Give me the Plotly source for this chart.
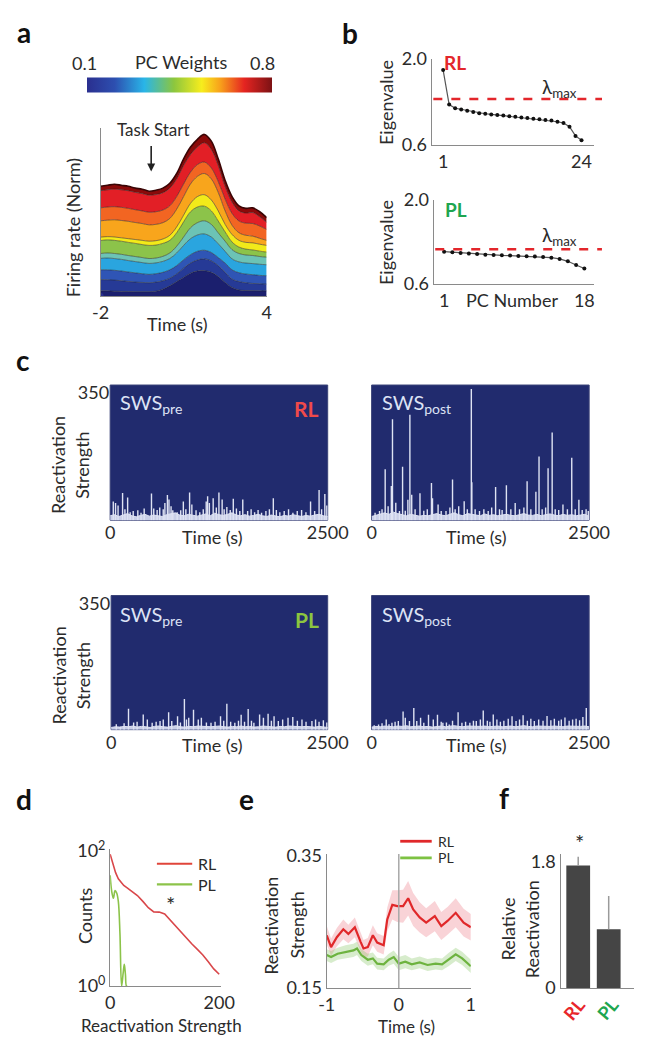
import plotly.graph_objects as go

W, H = 655, 1050
TXT = '#2b2b2b'
AX = '#8a8a8a'
FONT = 'Lato'
FS = 18

# ---------------- data ----------------
# panel a : stacked firing-rate bands (layer tops, bottom -> top)
t_a = [-2.0, -1.75, -1.5, -1.25, -1.0, -0.75, -0.5, -0.25, 0.0, 0.25, 0.5, 0.75, 1.0,
       1.25, 1.5, 1.75, 2.0, 2.25, 2.5, 2.75, 3.0, 3.25, 3.5, 3.75, 4.0]
L1 = [0.030,0.030,0.028,0.027,0.026,0.025,0.025,0.025,0.028,0.040,0.060,0.085,0.110,0.135,0.148,0.150,0.140,0.115,0.080,0.050,0.035,0.032,0.031,0.030,0.030]
L2 = [0.097,0.096,0.094,0.090,0.086,0.082,0.080,0.078,0.082,0.090,0.105,0.130,0.165,0.195,0.213,0.220,0.208,0.180,0.140,0.100,0.085,0.078,0.074,0.072,0.070]
L3 = [0.155,0.155,0.152,0.148,0.142,0.137,0.132,0.128,0.132,0.140,0.155,0.180,0.215,0.245,0.265,0.271,0.258,0.228,0.195,0.155,0.138,0.130,0.126,0.122,0.120]
L4 = [0.223,0.225,0.222,0.217,0.210,0.204,0.198,0.193,0.196,0.205,0.222,0.255,0.300,0.340,0.362,0.368,0.350,0.310,0.265,0.220,0.202,0.195,0.192,0.188,0.185]
L5 = [0.252,0.255,0.252,0.247,0.240,0.234,0.228,0.222,0.225,0.235,0.255,0.295,0.350,0.405,0.435,0.446,0.425,0.375,0.325,0.275,0.252,0.243,0.240,0.234,0.230]
L6 = [0.329,0.333,0.330,0.325,0.318,0.312,0.305,0.300,0.302,0.312,0.330,0.375,0.440,0.500,0.528,0.533,0.505,0.445,0.380,0.320,0.290,0.278,0.273,0.266,0.260]
L7 = [0.349,0.352,0.350,0.345,0.340,0.335,0.330,0.325,0.328,0.338,0.360,0.410,0.480,0.550,0.590,0.601,0.570,0.505,0.425,0.365,0.330,0.318,0.315,0.307,0.300]
L8 = [0.446,0.450,0.452,0.448,0.443,0.436,0.430,0.422,0.425,0.435,0.460,0.515,0.590,0.665,0.710,0.727,0.695,0.615,0.505,0.420,0.375,0.360,0.355,0.342,0.330]
L9 = [0.523,0.528,0.530,0.526,0.520,0.512,0.505,0.497,0.500,0.510,0.535,0.590,0.665,0.735,0.780,0.795,0.760,0.680,0.575,0.490,0.445,0.432,0.430,0.415,0.395]
L10 = [0.625,0.630,0.635,0.630,0.625,0.615,0.608,0.598,0.602,0.613,0.640,0.695,0.775,0.840,0.885,0.910,0.870,0.775,0.650,0.557,0.505,0.492,0.495,0.470,0.437]
L11 = [0.651,0.657,0.663,0.657,0.651,0.640,0.634,0.622,0.628,0.640,0.669,0.727,0.814,0.884,0.930,0.959,0.919,0.814,0.686,0.590,0.535,0.520,0.523,0.500,0.465]
layer_colors = ['#1b1f6e', '#263a96', '#2f55b5', '#2aa5df', '#6cc3b5', '#8cc34a',
                '#f2ea1a', '#f8a51c', '#f26522', '#e21f26', '#8b0a0a']
pc_weight_range = [0.1, 0.8]
pc_colorscale = [[0, '#2a2f8f'], [0.15, '#2d4fb0'], [0.31, '#29b5e8'], [0.47, '#8cc63e'],
                 [0.62, '#f7ed1d'], [0.72, '#f8a11b'], [0.85, '#e52421'], [1, '#7c1214']]

# panel b : eigenvalue spectra
pc_rl = list(range(1, 25))
eig_rl = [1.82, 1.26, 1.20, 1.18, 1.16, 1.14, 1.12, 1.11, 1.10, 1.09, 1.08, 1.07,
          1.06, 1.05, 1.04, 1.03, 1.02, 1.01, 1.00, 0.98, 0.96, 0.90, 0.75, 0.68]
lam_rl = 1.35
pc_pl = list(range(1, 19))
eig_pl = [1.14, 1.13, 1.12, 1.11, 1.10, 1.09, 1.085, 1.08, 1.075, 1.07, 1.065, 1.06,
          1.05, 1.04, 1.02, 0.98, 0.92, 0.86]
lam_pl = 1.18

# panel c : reactivation strength time courses (spike times s, heights)
c1_t = [36,62,91,143,170,201,230,265,318,355,391,475,501,540,570,610,629,658,676,700,720,770,811,841,870,913,939,987,1030,1070,1104,1120,1140,1184,1220,1250,1287,1310,1341,1380,1415,1451,1490,1524,1580,1620,1660,1700,1740,1790,1830,1875,1910,1950,2000,2050,2100,2150,2200,2250,2303,2350,2401,2430,2467,2490]
c1_h = [51,47,40,75,30,62,22,25,27,20,32,73,32,28,35,30,47,69,57,38,27,22,27,51,30,76,43,27,22,30,51,66,47,60,35,76,57,30,36,28,59,32,25,57,25,30,22,28,20,25,30,60,28,22,25,30,20,25,28,22,51,25,83,30,72,40]
c2_t = [40,91,120,156,190,227,240,278,320,356,387,417,440,461,500,556,600,640,688,700,764,800,855,900,930,960,1001,1064,1100,1146,1152,1190,1240,1290,1340,1380,1425,1470,1500,1549,1600,1650,1700,1750,1787,1830,1888,1924,1960,2000,2028,2075,2110,2150,2199,2250,2300,2340,2382,2420,2465,2490]
c2_h = [20,25,30,140,38,94,278,48,25,147,26,56,290,70,30,74,26,30,102,60,43,25,25,35,112,30,38,52,30,361,104,30,25,30,25,35,91,30,28,96,30,47,30,35,107,30,78,175,30,35,143,241,30,28,43,30,172,30,56,28,30,25]
c3_t = [60,107,150,201,260,300,371,418,474,520,565,602,664,700,767,800,846,870,896,951,1006,1042,1100,1153,1200,1263,1300,1336,1380,1428,1470,1501,1540,1582,1620,1648,1714,1758,1812,1850,1881,1930,1980,2042,2097,2150,2203,2250,2318,2360,2400,2450,2490]
c3_h = [15,8,18,58,20,22,42,28,19,22,24,28,48,24,37,20,85,28,33,55,28,33,20,19,22,37,25,72,22,19,25,41,22,57,25,19,42,33,44,25,37,24,28,33,35,25,28,22,24,28,22,26,20]
c4_t = [30,80,120,168,200,234,270,307,362,387,435,485,519,563,600,654,709,757,800,819,860,892,930,994,1038,1080,1129,1170,1203,1250,1283,1330,1360,1398,1440,1480,1520,1570,1614,1660,1700,1741,1790,1830,1870,1920,1970,2016,2060,2100,2150,2180,2222,2270,2310,2350,2390,2428,2467]
c4_h = [12,14,18,28,15,19,22,24,50,33,24,60,24,33,19,41,28,41,22,19,20,14,25,48,19,22,19,25,24,28,53,25,22,42,28,22,25,30,37,24,28,40,25,30,24,28,25,38,26,30,25,28,34,25,28,30,26,35,60]
floor_t = list(range(0, 2501, 50))
c1_floor = [12,15,10,14,18,12,9,13,16,11,14,12,10,15,18,20,14,12,16,13,11,14,17,12,19,15,13,16,20,14,12,15,11,13,16,12,10,14,12,9,13,11,15,12,10,13,11,14,16,12,10]
c2_floor = [10,14,18,20,16,22,18,15,12,16,14,11,13,12,15,18,14,12,16,20,15,12,18,16,14,12,17,13,15,12,14,16,13,12,15,18,14,13,16,12,15,17,14,12,16,13,15,12,14,16,10]
c3_floor = [6,8,7,9,8,10,7,9,8,6,9,10,8,7,9,11,8,7,9,8,10,9,7,8,9,10,8,7,9,8,10,8,9,7,8,10,9,8,7,9,8,10,9,7,8,9,8,7,9,8,6]
c4_floor = [7,9,8,10,9,8,10,9,11,8,9,10,8,9,7,9,10,8,9,11,9,8,10,9,8,9,10,8,9,10,8,9,10,8,9,11,9,8,10,9,8,9,10,9,8,10,9,8,9,10,8]

# panel d : distribution of reactivation strength
d_x_rl = [0,5,10,15,20,25,30,40,50,60,70,80,90,100,110,120,130,140,150,160,170,180,190,200]
d_rl = [90,63,48,39,34,31,29,25,22,18,14.5,12.6,12.5,11.7,9.5,7.9,6.3,5.1,4.2,3.5,2.9,2.3,1.8,1.5]
d_x_pl = [0,3,6,9,12,15,18,21,24,26,28,30,32]
d_pl = [44,25,20,26,24,18,6,1,1.6,2.1,1.5,1,1]

# panel e : task-locked reactivation (mean, sem)
t_e_rl = [-1.0,-0.94,-0.86,-0.77,-0.70,-0.61,-0.53,-0.49,-0.43,-0.36,-0.30,-0.21,-0.16,-0.09,-0.02,0.06,0.13,0.20,0.29,0.38,0.50,0.59,0.68,0.79,0.90,1.0]
e_rl = [0.230,0.212,0.227,0.239,0.232,0.242,0.220,0.210,0.212,0.230,0.219,0.215,0.254,0.276,0.274,0.274,0.286,0.269,0.257,0.249,0.259,0.244,0.252,0.264,0.249,0.242]
e_rl_sem = [0.014,0.013,0.014,0.015,0.014,0.015,0.014,0.013,0.014,0.015,0.014,0.014,0.018,0.022,0.024,0.025,0.026,0.025,0.023,0.022,0.023,0.021,0.021,0.022,0.021,0.020]
t_e_pl = [-1.0,-0.94,-0.85,-0.74,-0.63,-0.58,-0.52,-0.43,-0.36,-0.30,-0.21,-0.14,-0.07,0.0,0.09,0.18,0.29,0.40,0.51,0.60,0.69,0.79,0.88,1.0]
e_pl = [0.200,0.197,0.202,0.205,0.207,0.210,0.200,0.193,0.195,0.187,0.186,0.193,0.197,0.187,0.190,0.186,0.189,0.185,0.187,0.186,0.193,0.201,0.195,0.183]
e_pl_sem = [0.009,0.009,0.009,0.010,0.010,0.010,0.009,0.009,0.009,0.009,0.009,0.009,0.010,0.010,0.010,0.009,0.009,0.009,0.009,0.009,0.010,0.010,0.010,0.010]

# panel f : relative reactivation
f_cats = ['RL', 'PL']
f_vals = [1.745, 0.837]
f_err = [0.125, 0.475]
f_label_colors = ['#e8262b', '#1ea650']

# ---------------- helpers ----------------
def X(p):
    return p / W

def Y(p):
    return 1 - p / H

def _axis(domain, rng, anchor, tickvals, ticktext, showline, kw):
    d = dict(domain=domain, range=rng, anchor=anchor, showline=showline,
             linecolor=AX, linewidth=1.3, showgrid=False, zeroline=False, ticks='',
             showticklabels=tickvals is not None,
             tickfont=dict(size=FS, color=TXT, family=FONT), fixedrange=True)
    if tickvals is not None:
        d['tickvals'] = tickvals
        d['ticktext'] = ticktext
    d.update(kw)
    return d

def xax(x0, x1, rng, anchor, tickvals=None, ticktext=None, showline=True, **kw):
    return _axis([X(x0), X(x1)], rng, anchor, tickvals, ticktext, showline, kw)

def yax(top, bottom, rng, anchor, tickvals=None, ticktext=None, showline=True, **kw):
    return _axis([Y(bottom), Y(top)], rng, anchor, tickvals, ticktext, showline, kw)

annotations = []
shapes = []

def ann(text, x, y, size=FS, color=TXT, angle=0, xanchor='center', yanchor='middle', bold=False):
    if bold:
        text = '<b>' + text + '</b>'
    annotations.append(dict(text=text, x=X(x), y=Y(y), xref='paper', yref='paper',
                            showarrow=False, textangle=angle, xanchor=xanchor,
                            yanchor=yanchor, font=dict(size=size, color=color, family=FONT)))

def hline_px(x0, x1, y, color, width):
    shapes.append(dict(type='line', xref='paper', yref='paper', x0=X(x0), x1=X(x1),
                       y0=Y(y), y1=Y(y), line=dict(color=color, width=width)))

fig = go.Figure()

# ---------------- panel a ----------------
tops = [L1, L2, L3, L4, L5, L6, L7, L8, L9, L10, L11]
for i, top in enumerate(tops):
    last = i == len(tops) - 1
    fig.add_trace(go.Scatter(
        x=t_a, y=top, mode='lines', line_shape='spline',
        fill='tozeroy' if i == 0 else 'tonexty', fillcolor=layer_colors[i],
        line=dict(color='#3a0505' if last else 'rgba(35,35,35,0.65)', width=1.6 if last else 0.8),
        xaxis='x', yaxis='y', hoverinfo='skip', showlegend=False))
fig.add_trace(go.Scatter(
    x=[t_a[0]], y=[0], mode='markers', xaxis='x', yaxis='y', showlegend=False, hoverinfo='skip',
    marker=dict(size=0, color=[pc_weight_range[0]], cmin=pc_weight_range[0], cmax=pc_weight_range[1],
                colorscale=pc_colorscale, showscale=True,
                colorbar=dict(orientation='h', x=X((86 + 271) / 2), xanchor='center',
                              y=Y(75), yanchor='middle', len=185, lenmode='pixels',
                              thickness=15, thicknessmode='pixels', outlinewidth=0,
                              showticklabels=False, ticks='', xpad=0, ypad=0))))

ann('<b>a</b>', 16, 20, size=28, color='#111')
ann(str(pc_weight_range[0]), 79, 52)
ann('PC Weights', 180, 51)
ann(str(pc_weight_range[1]), 266, 52)
ann('Task Start', 151, 120, size=17)
annotations.append(dict(text='', x=X(149), y=Y(163), xref='paper', yref='paper', showarrow=True,
                        ax=0, ay=-27, arrowhead=2, arrowsize=1, arrowwidth=1.6, arrowcolor='#222'))
ann('Firing rate (Norm)', 67, 220, angle=-90)
ann('Time (s)', 177, 319)

# ---------------- panel b ----------------
fig.add_trace(go.Scatter(x=pc_rl, y=eig_rl, mode='lines+markers', xaxis='x2', yaxis='y2',
                         line=dict(color='#555', width=1.2), marker=dict(color='#111', size=4),
                         showlegend=False, hoverinfo='skip'))
fig.add_trace(go.Scatter(x=pc_pl, y=eig_pl, mode='lines+markers', xaxis='x3', yaxis='y3',
                         line=dict(color='#555', width=1.2), marker=dict(color='#111', size=4),
                         showlegend=False, hoverinfo='skip'))
shapes.append(dict(type='line', xref='x2 domain', yref='y2', x0=0.01, x1=1.05, y0=lam_rl, y1=lam_rl,
                   line=dict(color='#e3262b', width=2.5, dash='dash')))
shapes.append(dict(type='line', xref='x3 domain', yref='y3', x0=0.01, x1=1.05, y0=lam_pl, y1=lam_pl,
                   line=dict(color='#e3262b', width=2.5, dash='dash')))
ann('<b>b</b>', 357, 21, size=28, color='#111')
ann('Eigenvalue', 395, 92, angle=-90)
ann('Eigenvalue', 395, 235, angle=-90)
ann('RL', 467, 52, size=19, color='#e3262b', bold=True)
ann('PL', 468, 202, size=19, color='#1ea650', bold=True)
ann('λ<sub>max</sub>', 577, 78, size=19)
ann('λ<sub>max</sub>', 577, 229, size=19)
ann('PC Number', 527, 294)

# ---------------- panel c ----------------
NAVY = '#212b6e'
SPK = '#dfe3f3'
c_sets = [(c1_t, c1_h, c1_floor, '4'), (c2_t, c2_h, c2_floor, '5'),
          (c3_t, c3_h, c3_floor, '6'), (c4_t, c4_h, c4_floor, '7')]
for ts, hs, fl, k in c_sets:
    shapes.append(dict(type='rect', xref='x%s domain' % k, yref='y%s domain' % k, x0=0, x1=1, y0=0, y1=1,
                       fillcolor=NAVY, line=dict(color='#3b4478', width=1), layer='below'))
    fig.add_trace(go.Scatter(x=floor_t, y=fl, mode='lines', fill='tozeroy', fillcolor='#c9cfe8',
                             line=dict(color=SPK, width=1), xaxis='x' + k, yaxis='y' + k,
                             showlegend=False, hoverinfo='skip'))
    xs, ys = [], []
    for t, h in zip(ts, hs):
        xs += [t, t, None]
        ys += [0, h, None]
    fig.add_trace(go.Scatter(x=xs, y=ys, mode='lines', line=dict(color=SPK, width=1.4),
                             xaxis='x' + k, yaxis='y' + k, showlegend=False, hoverinfo='skip'))

ann('<b>c</b>', 15, 355, size=28, color='#111')
for yc in (463, 678):
    ann('Reactivation', 52, yc, angle=-90)
    ann('Strength', 77, yc, angle=-90)
for ytop in (400, 616):
    ann('SWS<sub>pre</sub>', 114, ytop, size=20, color='#dde3f5', xanchor='left')
    ann('SWS<sub>post</sub>', 389, ytop, size=20, color='#dde3f5', xanchor='left')
ann('RL', 312, 405, size=21, color='#f04a4a', bold=True)
ann('PL', 312, 620, size=21, color='#8cc63f', bold=True)
for yt in (536, 749):
    ann('Time (s)', 213, yt)
    ann('Time (s)', 490, yt)

# ---------------- panel d ----------------
fig.add_trace(go.Scatter(x=d_x_rl, y=d_rl, mode='lines', line=dict(color='#d9474a', width=1.6),
                         xaxis='x8', yaxis='y8', showlegend=False, hoverinfo='skip'))
fig.add_trace(go.Scatter(x=d_x_pl, y=d_pl, mode='lines', line=dict(color='#8cc34a', width=1.6),
                         line_shape='spline', xaxis='x8', yaxis='y8', showlegend=False, hoverinfo='skip'))
ann('<b>d</b>', 16, 804, size=28, color='#111')
ann('Counts', 79, 923, angle=-90)
ann('Reactivation Strength', 160, 1035, size=17)
hline_px(155, 192, 870, '#e0453a', 2.2)
hline_px(155, 192, 891, '#8cc34a', 2.2)
ann('RL', 196, 870, size=16, xanchor='left')
ann('PL', 196, 891, size=16, xanchor='left')
ann('*', 169, 912, size=22)

# ---------------- panel e ----------------
fig.add_trace(go.Scatter(x=t_e_rl, y=[m + s for m, s in zip(e_rl, e_rl_sem)], mode='lines',
                         line=dict(width=0), xaxis='x9', yaxis='y9', showlegend=False, hoverinfo='skip'))
fig.add_trace(go.Scatter(x=t_e_rl, y=[m - s for m, s in zip(e_rl, e_rl_sem)], mode='lines',
                         line=dict(width=0), fill='tonexty', fillcolor='rgba(238,130,140,0.35)',
                         xaxis='x9', yaxis='y9', showlegend=False, hoverinfo='skip'))
fig.add_trace(go.Scatter(x=t_e_pl, y=[m + s for m, s in zip(e_pl, e_pl_sem)], mode='lines',
                         line=dict(width=0), xaxis='x9', yaxis='y9', showlegend=False, hoverinfo='skip'))
fig.add_trace(go.Scatter(x=t_e_pl, y=[m - s for m, s in zip(e_pl, e_pl_sem)], mode='lines',
                         line=dict(width=0), fill='tonexty', fillcolor='rgba(140,200,110,0.35)',
                         xaxis='x9', yaxis='y9', showlegend=False, hoverinfo='skip'))
fig.add_trace(go.Scatter(x=t_e_rl, y=e_rl, mode='lines', line=dict(color='#e0282a', width=2.2),
                         xaxis='x9', yaxis='y9', showlegend=False, hoverinfo='skip'))
fig.add_trace(go.Scatter(x=t_e_pl, y=e_pl, mode='lines', line=dict(color='#6db33f', width=2.2),
                         xaxis='x9', yaxis='y9', showlegend=False, hoverinfo='skip'))
shapes.append(dict(type='line', xref='x9', yref='y9 domain', x0=0, x1=0, y0=0, y1=1,
                   line=dict(color='#a8a8a8', width=1.5)))
ann('<b>e</b>', 249, 804, size=28, color='#111')
ann('Reactivation', 275, 933, angle=-90)
ann('Strength', 302, 933, angle=-90)
ann('Time (s)', 417, 1036, size=17)
hline_px(410, 443, 847, '#e0282a', 2.8)
hline_px(410, 443, 864, '#7dc242', 2.8)
ann('RL', 448, 847, size=14, xanchor='left')
ann('PL', 448, 864, size=14, xanchor='left')

# ---------------- panel f ----------------
fig.add_trace(go.Bar(x=f_cats, y=f_vals, width=0.78, marker=dict(color='#454545', line=dict(width=0)),
                     error_y=dict(type='data', array=f_err, arrayminus=[0, 0], symmetric=False,
                                  color='#9a9a9a', thickness=1.5, width=0),
                     xaxis='x10', yaxis='y10', showlegend=False, hoverinfo='skip'))
ann('<b>f</b>', 519, 803, size=28, color='#111')
ann('Relative', 523, 937, angle=-90)
ann('Reactivation', 548, 937, angle=-90)
ann('*', 598, 848, size=22)
for cat, col, xp in zip(f_cats, f_label_colors, (592, 627)):
    ann(cat, xp, 1018, size=18, color=col, angle=-50, bold=True)

# ---------------- layout ----------------
layout = dict(
    width=W, height=H, autosize=False,
    margin=dict(l=0, r=0, t=0, b=0),
    paper_bgcolor='white', plot_bgcolor='white',
    font=dict(family=FONT, color=TXT, size=FS),
    showlegend=False,
    xaxis=xax(96, 270, [-2, 4], 'y', [-2, 4], ['-2', '4']),
    yaxis=yax(118, 290, [0, 1], 'x'),
    xaxis2=xax(443, 613, [-0.9, 26.06], 'y2', [1, 24], ['1', '24']),
    yaxis2=yax(48, 136, [0.6, 2.0], 'x2', [0.6, 2.0], ['0.6', '2.0']),
    xaxis3=xax(445, 613, [-0.27, 19.16], 'y3', [1, 18], ['1', '18']),
    yaxis3=yax(192, 278, [0.6, 2.0], 'x3', [0.6, 2.0], ['0.6', '2.0']),
    xaxis4=xax(106, 334, [0, 2500], 'y4', [0, 2500], ['0', '2500'], showline=False),
    yaxis4=yax(381, 519, [0, 372], 'x4', [350], ['350'], showline=False),
    xaxis5=xax(380, 608, [0, 2500], 'y5', [0, 2500], ['0', '2500'], showline=False),
    yaxis5=yax(381, 519, [0, 372], 'x5', showline=False),
    xaxis6=xax(107, 334, [0, 2500], 'y6', [0, 2500], ['0', '2500'], showline=False),
    yaxis6=yax(596, 733, [0, 372], 'x6', [350], ['350'], showline=False),
    xaxis7=xax(380, 608, [0, 2500], 'y7', [0, 2500], ['0', '2500'], showline=False),
    yaxis7=yax(596, 733, [0, 372], 'x7', showline=False),
    xaxis8=xax(106, 222, [0, 203], 'y8', [0, 200], ['0', '200']),
    yaxis8=yax(855, 995, [0, 2.03], 'x8', [1, 100], ['10<sup>0</sup>', '10<sup>2</sup>'], type='log'),
    xaxis9=xax(333, 484, [-1, 1], 'y9', [-1, 0, 1], ['-1', '0', '1']),
    yaxis9=yax(860, 997, [0.15, 0.353], 'x9', [0.15, 0.35], ['0.15', '0.35']),
    xaxis10=xax(578, 655, [-0.58, 1.83], 'y10'),
    yaxis10=yax(860, 997, [0, 1.91], 'x10', [0, 1.8], ['0', '1.8']),
    annotations=annotations,
    shapes=shapes,
)
fig.update_layout(**layout)
fig.write_html('out.html', config={'displayModeBar': False},
               post_script="document.body.style.margin='0';document.body.style.overflow='hidden';")
